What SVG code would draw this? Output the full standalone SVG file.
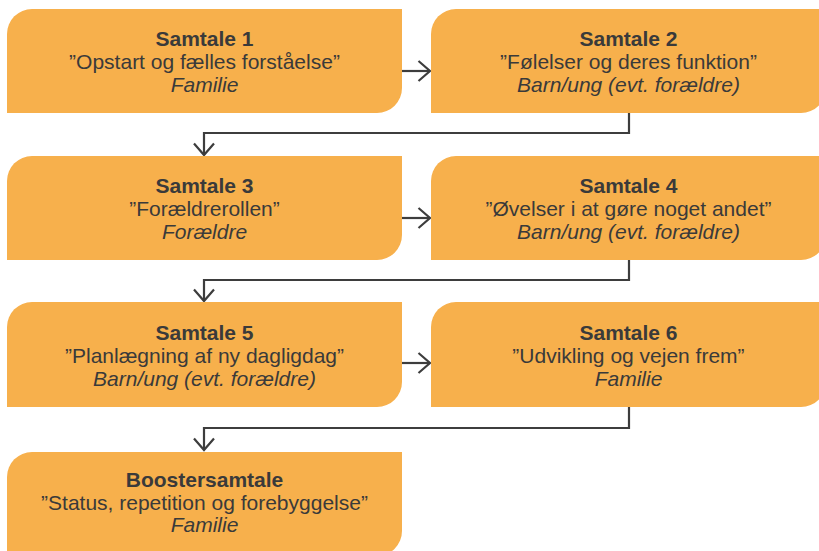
<svg xmlns="http://www.w3.org/2000/svg" width="819" height="551" viewBox="0 0 819 551">
<defs>
<style>
.box{fill:#F7B04C;}
text{font-family:"Liberation Sans",Arial,sans-serif;font-size:21px;fill:#3a3a3a;text-anchor:middle;}
.t{font-weight:bold;}
.i{font-style:italic;}
.c{fill:none;stroke:#3d3d3d;stroke-width:2.2;}
</style>
<marker id="ah" markerUnits="userSpaceOnUse" viewBox="0 0 14 22" refX="12.5" refY="11" markerWidth="14" markerHeight="22" orient="auto" overflow="visible">
<path d="M1,1 L12.5,11 L1,21" fill="none" stroke="#3d3d3d" stroke-width="2.2"/>
</marker>
</defs>
<rect width="819" height="551" fill="#ffffff"/>
<g id="connectors">
<path class="c" d="M402,71 H430" marker-end="url(#ah)"/>
<path class="c" d="M629,113 V133 H204 V155" marker-end="url(#ah)"/>
<path class="c" d="M402,218 H430" marker-end="url(#ah)"/>
<path class="c" d="M629,260 V280 H204 V301" marker-end="url(#ah)"/>
<path class="c" d="M402,363 H430" marker-end="url(#ah)"/>
<path class="c" d="M629,407 V428 H204 V450" marker-end="url(#ah)"/>
</g>
<g id="samtale1">
<path class="box" d="M7,34 A25,25 0 0 1 32,9 H402 V88 A25,25 0 0 1 377,113 H7 Z"/>
<text x="204.5" y="46" class="t">Samtale 1</text>
<text x="204.5" y="69">”Opstart og fælles forståelse”</text>
<text x="204.5" y="92" class="i">Familie</text>
</g>
<g id="samtale2">
<path class="box" d="M431,34 A25,25 0 0 1 456,9 H826 V88 A25,25 0 0 1 801,113 H431 Z"/>
<text x="628.5" y="46" class="t">Samtale 2</text>
<text x="628.5" y="69">”Følelser og deres funktion”</text>
<text x="628.5" y="92" class="i">Barn/ung (evt. forældre)</text>
</g>
<g id="samtale3">
<path class="box" d="M7,181 A25,25 0 0 1 32,156 H402 V235 A25,25 0 0 1 377,260 H7 Z"/>
<text x="204.5" y="193" class="t">Samtale 3</text>
<text x="204.5" y="216">”Forældrerollen”</text>
<text x="204.5" y="239" class="i">Forældre</text>
</g>
<g id="samtale4">
<path class="box" d="M431,181 A25,25 0 0 1 456,156 H826 V235 A25,25 0 0 1 801,260 H431 Z"/>
<text x="628.5" y="193" class="t">Samtale 4</text>
<text x="628.5" y="216">”Øvelser i at gøre noget andet”</text>
<text x="628.5" y="239" class="i">Barn/ung (evt. forældre)</text>
</g>
<g id="samtale5">
<path class="box" d="M7,327 A25,25 0 0 1 32,302 H402 V382 A25,25 0 0 1 377,407 H7 Z"/>
<text x="204.5" y="340" class="t">Samtale 5</text>
<text x="204.5" y="363">”Planlægning af ny dagligdag”</text>
<text x="204.5" y="386" class="i">Barn/ung (evt. forældre)</text>
</g>
<g id="samtale6">
<path class="box" d="M431,327 A25,25 0 0 1 456,302 H826 V382 A25,25 0 0 1 801,407 H431 Z"/>
<text x="628.5" y="340" class="t">Samtale 6</text>
<text x="628.5" y="363">”Udvikling og vejen frem”</text>
<text x="628.5" y="386" class="i">Familie</text>
</g>
<g id="boostersamtale">
<path class="box" d="M7,477 A25,25 0 0 1 32,452 H402 V531 A25,25 0 0 1 377,556 H7 Z"/>
<text x="204.5" y="487" class="t">Boostersamtale</text>
<text x="204.5" y="510">”Status, repetition og forebyggelse”</text>
<text x="204.5" y="532" class="i">Familie</text>
</g>
</svg>
